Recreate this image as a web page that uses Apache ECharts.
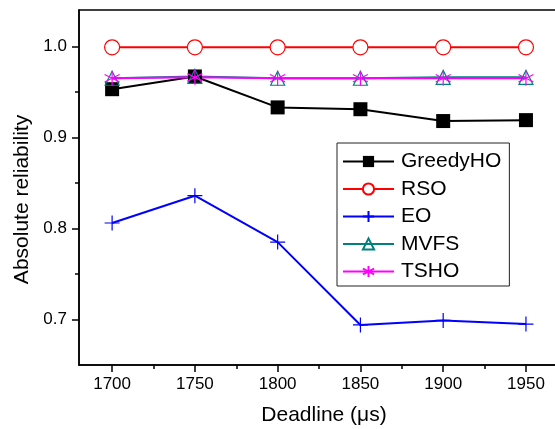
<!DOCTYPE html>
<html>
<head>
<meta charset="utf-8">
<script src="https://cdn.jsdelivr.net/npm/echarts@6/dist/echarts.min.js"></script>
<style>
    html, body { margin: 0; padding: 0; background: #fff; }
    #chart { width: 555px; height: 429px; }
</style>
</head>
<body>
<div id="chart"></div>
<script>
    // deadlines (us)
    var deadlines = [1700, 1750, 1800, 1850, 1900, 1950];
    var xMinorTicks = [1725, 1775, 1825, 1875, 1925];
    var yMajorTicks = [0.7, 0.8, 0.9, 1.0];
    var yMinorTicks = [0.75, 0.85, 0.95];

    var greedyHO = [0.953, 0.967, 0.933, 0.931, 0.918, 0.919];
    var rso      = [0.999, 0.999, 0.999, 0.999, 0.999, 0.999];
    var eo       = [0.806, 0.836, 0.785, 0.694, 0.699, 0.695];
    var mvfs     = [0.965, 0.967, 0.965, 0.965, 0.966, 0.966];
    var tsho     = [0.965, 0.966, 0.965, 0.965, 0.965, 0.965];

    function pairs(arr) {
        var out = [];
        for (var i = 0; i < deadlines.length; i++) {
            out.push([deadlines[i], arr[i]]);
        }
        return out;
    }

    var plusPath = 'path://M0,-10L0,10M-10,0L10,0';
    var starPath = 'path://M0,-10L0,10M-8.66,-5L8.66,5M-8.66,5L8.66,-5';
    var font = 'Liberation Sans, Arial, sans-serif';

    var mycharts = echarts.init(document.getElementById('chart'));
    var option = {
        animation: false,
        backgroundColor: '#fff',
        grid: {
            left: 79,
            top: 10,
            width: 490,
            height: 355,
            outerBoundsMode: 'none',
            show: true,
            borderColor: '#000',
            borderWidth: 1.5
        },
        legend: {
            orient: 'vertical',
            left: 337,
            top: 143,
            itemWidth: 51,
            itemHeight: 14,
            itemGap: 6.5,
            padding: [8, 8, 4, 5],
            borderColor: '#222',
            borderWidth: 1,
            backgroundColor: '#fff',
            textStyle: { fontSize: 21, lineHeight: 20, color: '#000', fontFamily: font, padding: [0, 0, 0, 2] },
            data: ['GreedyHO', 'RSO', 'EO', 'MVFS', 'TSHO']
        },
        xAxis: [{
            type: 'value',
            min: 1680,
            max: 1976,
            name: 'Deadline (\u03bcs)',
            nameLocation: 'middle',
            nameGap: 40,
            nameTextStyle: { fontSize: 21, color: '#000', fontFamily: font },
            axisLine: { show: true, onZero: false, lineStyle: { color: '#000', width: 1.5 } },
            axisTick: { show: true, customValues: deadlines, length: 7, lineStyle: { color: '#000', width: 1.5 } },
            axisLabel: {
                customValues: deadlines, fontSize: 17, color: '#000', fontFamily: font, margin: 11,
                formatter: function (v) { return String(v); }
            },
            splitLine: { show: false }
        }, {
            type: 'value',
            position: 'bottom',
            min: 1680,
            max: 1976,
            axisLine: { show: false },
            axisTick: { show: true, customValues: xMinorTicks, length: 4, lineStyle: { color: '#000', width: 1.5 } },
            axisLabel: { show: false },
            splitLine: { show: false }
        }],
        yAxis: [{
            type: 'value',
            min: 0.65,
            max: 1.04,
            name: 'Absolute reliability',
            nameLocation: 'middle',
            nameGap: 45,
            nameTextStyle: { fontSize: 21, color: '#000', fontFamily: font, padding: [0, 24, 0, 0] },
            axisLine: { show: true, onZero: false, lineStyle: { color: '#000', width: 1.5 } },
            axisTick: { show: true, customValues: yMajorTicks, length: 7, lineStyle: { color: '#000', width: 1.5 } },
            axisLabel: {
                customValues: yMajorTicks, fontSize: 17, color: '#000', fontFamily: font, margin: 12,
                formatter: function (v) { return v.toFixed(1); }
            },
            splitLine: { show: false }
        }, {
            type: 'value',
            position: 'left',
            min: 0.65,
            max: 1.04,
            axisLine: { show: false },
            axisTick: { show: true, customValues: yMinorTicks, length: 4, lineStyle: { color: '#000', width: 1.5 } },
            axisLabel: { show: false },
            splitLine: { show: false }
        }],
        series: [
            {
                name: 'GreedyHO',
                type: 'line',
                data: pairs(greedyHO),
                symbol: 'rect',
                symbolSize: 14,
                lineStyle: { color: '#000', width: 2 },
                itemStyle: { color: '#000', borderColor: '#000', borderWidth: 0 }
            },
            {
                name: 'RSO',
                type: 'line',
                data: pairs(rso),
                symbol: 'circle',
                symbolSize: 15,
                lineStyle: { color: '#ff0000', width: 2 },
                itemStyle: { color: '#fff', borderColor: '#ff0000', borderWidth: 1.2 }
            },
            {
                name: 'EO',
                type: 'line',
                data: pairs(eo),
                symbol: plusPath,
                symbolSize: 15,
                lineStyle: { color: '#0000ff', width: 2 },
                itemStyle: { color: 'rgba(0,0,0,0)', borderColor: '#0000ff', borderWidth: 1.2 }
            },
            {
                name: 'MVFS',
                type: 'line',
                data: pairs(mvfs),
                symbol: 'triangle',
                symbolSize: 14,
                lineStyle: { color: '#008080', width: 2 },
                itemStyle: { color: 'rgba(0,0,0,0)', borderColor: '#008080', borderWidth: 1.2 }
            },
            {
                name: 'TSHO',
                type: 'line',
                data: pairs(tsho),
                symbol: starPath,
                symbolSize: 15,
                lineStyle: { color: '#ff00ff', width: 2 },
                itemStyle: { color: 'rgba(0,0,0,0)', borderColor: '#ff00ff', borderWidth: 1.2 }
            }
        ]
    };
    mycharts.setOption(option);
</script>
</body>
</html>
